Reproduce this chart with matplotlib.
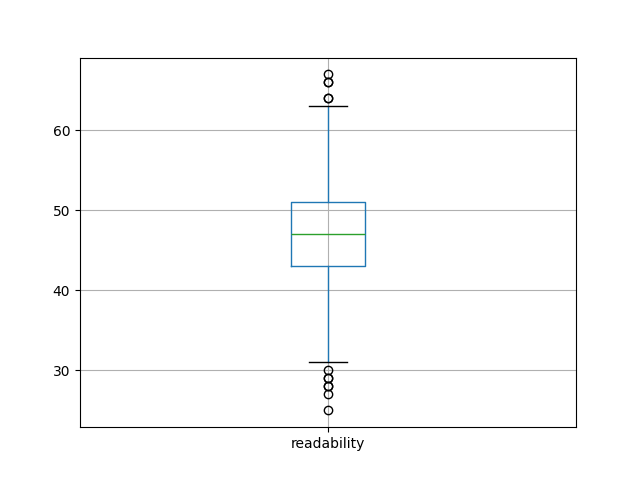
import matplotlib
matplotlib.use("Agg")
import matplotlib.pyplot as plt

# box statistics
label = "readability"
q1 = 43
median = 47
q3 = 51
whisker_low = 31
whisker_high = 63
outliers = [25, 27, 28, 28, 29, 29, 30, 64, 64, 66, 66, 67]

stats = [{
    "label": label,
    "q1": q1,
    "med": median,
    "q3": q3,
    "whislo": whisker_low,
    "whishi": whisker_high,
    "fliers": outliers,
}]

fig, ax = plt.subplots(figsize=(6.4, 4.8), dpi=100)
ax.bxp(stats,
       boxprops=dict(color="C0"),
       whiskerprops=dict(color="C0"),
       medianprops=dict(color="C2"),
       capprops=dict(color="k"))
ax.grid(True)
fig.savefig("out.png")
